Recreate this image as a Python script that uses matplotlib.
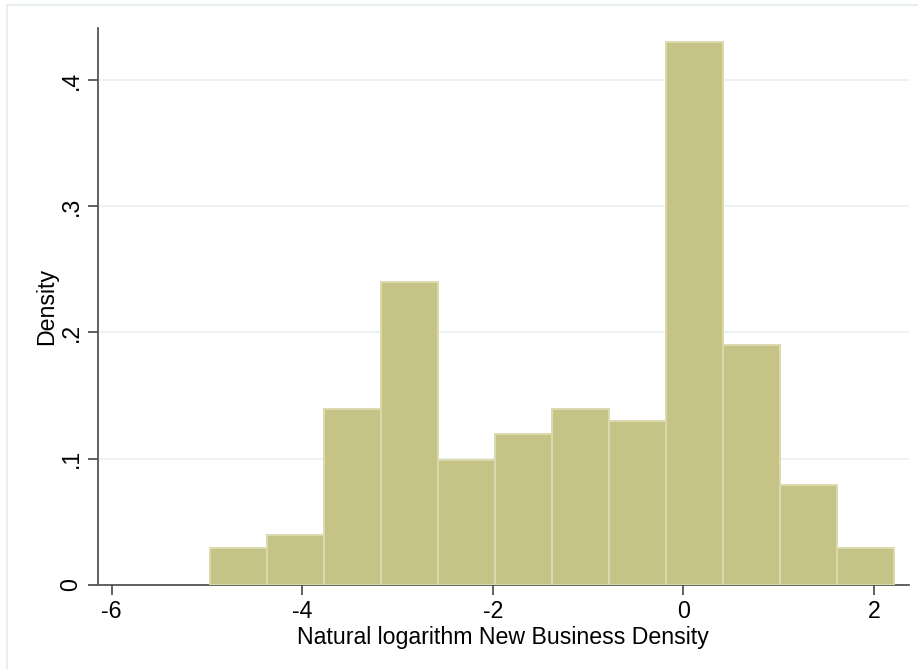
import matplotlib
matplotlib.use("Agg")
import matplotlib.pyplot as plt
from matplotlib.patches import Rectangle
import numpy as np

plt.rcParams['font.family'] = ['Liberation Sans', 'DejaVu Sans']

# Data
bin_start = -4.968
bin_width = 0.598
densities = [0.0294, 0.0397, 0.1397, 0.2397, 0.0992, 0.1198,
             0.1397, 0.1300, 0.4300, 0.1897, 0.0794, 0.0294]
x_ticks = [-6, -4, -2, 0, 2]
x_ticklabels = ["-6", "-4", "-2", "0", "2"]
y_ticks = [0, 0.1, 0.2, 0.3, 0.4]
y_ticklabels = ["0", ".1", ".2", ".3", ".4"]

W, H = 918, 669
fig = plt.figure(figsize=(W / 100, H / 100), dpi=100)
fig.patch.set_facecolor('white')

# outer light frame (left and top visible)
fig.add_artist(Rectangle((6.5 / W, -0.1), 1.2, (669 - 4.5) / H + 0.1,
                         transform=fig.transFigure, fill=False,
                         edgecolor='#E3EBEE', linewidth=1.2))

left, right = 97.7 / W, 909 / W
bottom, top = (H - 585) / H, (H - 27.7) / H
ax = fig.add_axes([left, bottom, right - left, top - bottom])

edges = bin_start + bin_width * np.arange(len(densities) + 1)
ax.bar(edges[:-1], densities, width=bin_width, align='edge',
       color='#C6C387', edgecolor='#DCD9AE', linewidth=1.4, zorder=3)

ax.set_xlim(-6.147, 2.367)
ax.set_ylim(0, 0.4414)

for yv in y_ticks[1:]:
    ax.axhline(yv, color='#EAF1F3', linewidth=1.2, zorder=1)

for s in ['top', 'right']:
    ax.spines[s].set_visible(False)
for s in ['left', 'bottom']:
    ax.spines[s].set_color('#555555')
    ax.spines[s].set_linewidth(1.3)

fs = 16.7
ax.set_xticks(x_ticks)
ax.set_xticklabels(x_ticklabels, fontsize=fs)
ax.set_yticks(y_ticks)
ax.set_yticklabels(y_ticklabels, fontsize=fs, rotation=90, va='center')
ax.tick_params(axis='both', length=7, width=1.3, color='#555555', pad=4)

ax.set_xlabel("Natural logarithm New Business Density", fontsize=fs, labelpad=2)
ax.set_ylabel("Density", fontsize=fs, labelpad=1)

fig.savefig("out.png", dpi=100)
